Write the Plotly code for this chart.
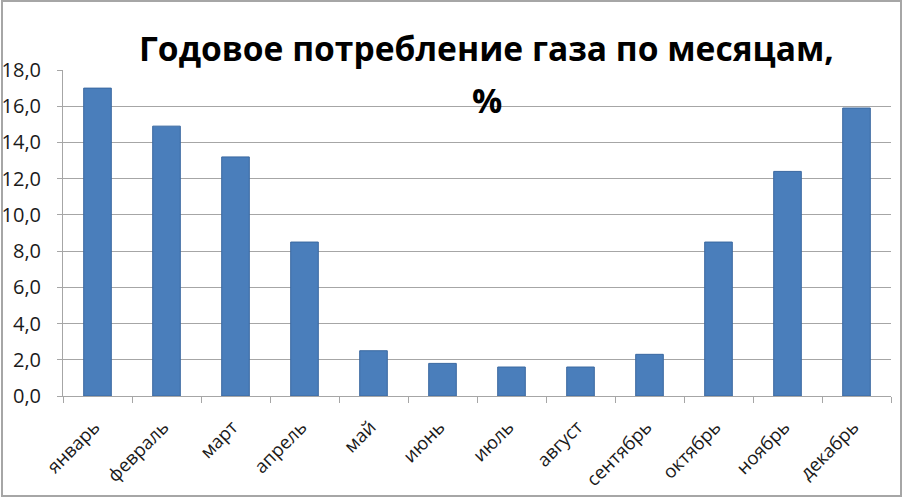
import plotly.graph_objects as go

months = ["январь", "февраль", "март", "апрель", "май", "июнь",
          "июль", "август", "сентябрь", "октябрь", "ноябрь", "декабрь"]
values = [17.0, 14.9, 13.2, 8.5, 2.5, 1.8, 1.6, 1.6, 2.3, 8.5, 12.4, 15.9]
y_ticks = [0, 2, 4, 6, 8, 10, 12, 14, 16, 18]
title_line1 = "Годовое потребление газа по месяцам,"
title_line2 = "%"

W, H = 906, 500
L, R, T, B = 63, 15, 70, 104
pw, ph = W - L - R, H - T - B

def px(x):
    return (x - L) / pw

def py(y):
    return (H - B - y) / ph

fig = go.Figure(go.Bar(
    x=months, y=values,
    marker=dict(color="#4A7EBB", line=dict(color="#3A68A0", width=1)),
    width=0.4,
))

font = "Open Sans, Liberation Sans, sans-serif"

fig.update_layout(
    width=W, height=H,
    margin=dict(l=L, r=R, t=T, b=B, autoexpand=False),
    paper_bgcolor="white", plot_bgcolor="white",
    separators=", ",
    showlegend=False,
    font=dict(family=font, color="#333333"),
    xaxis=dict(
        type="category",
        automargin=False,
        tickangle=-45,
        tickson="boundaries",
        ticks="outside", ticklen=6, tickcolor="#A6A6A6",
        showline=True, linecolor="#A6A6A6", linewidth=1,
        showgrid=False,
        tickfont=dict(size=18.5, color="#1A1A1A", family=font),
        ticklabelstandoff=12,
        ticklabelshift=-3,
    ),
    yaxis=dict(
        automargin=False,
        range=[0, 18],
        tickvals=y_ticks,
        tickformat=".1f",
        ticks="outside", ticklen=5, tickcolor="#A6A6A6",
        showline=True, linecolor="#A6A6A6", linewidth=1,
        showgrid=True, gridcolor="#A6A6A6", gridwidth=1,
        zeroline=False,
        tickfont=dict(size=20, color="#1A1A1A", family=font),
        ticklabelstandoff=12,
    ),
    annotations=[
        dict(text="<b>" + title_line1 + "</b>", xref="paper", yref="paper",
             x=px(486), y=py(48), xanchor="center", yanchor="middle",
             showarrow=False, font=dict(size=33.6, color="#000000", family=font)),
        dict(text="<b>" + title_line2 + "</b>", xref="paper", yref="paper",
             x=px(487), y=py(100), xanchor="center", yanchor="middle",
             showarrow=False, font=dict(size=33.6, color="#000000", family=font)),
    ],
    shapes=[
        dict(type="rect", xref="paper", yref="paper",
             x0=px(2), x1=px(901), y0=py(496), y1=py(1),
             line=dict(color="#A6A6A6", width=2), fillcolor="rgba(0,0,0,0)",
             layer="below"),
    ],
)

fig.write_html("out.html", config={"displayModeBar": False},
               post_script="document.body.style.margin='0';document.body.style.overflow='hidden';")
